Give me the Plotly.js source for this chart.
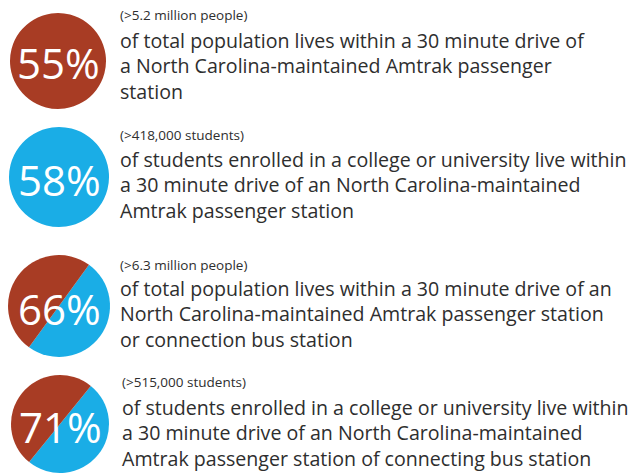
<!DOCTYPE html>
<html>
<head>
<meta charset="utf-8">
<script src="https://cdn.plot.ly/plotly-3.0.1.min.js"></script>
<style>html,body{margin:0;padding:0;background:#fff}#chart{width:641px;height:473px}</style>
</head>
<body>
<div id="chart"></div>
<script>
// ---- data ----
var percentLabels = ["55%", "58%", "66%", "71%"];
var countNotes = ["(>5.2 million people)", "(>418,000 students)", "(>6.3 million people)", "(>515,000 students)"];
var descLines = [
  ["of total population lives within a 30 minute drive of", "a North Carolina-maintained Amtrak passenger", "station"],
  ["of students enrolled in a college or university live within", "a 30 minute drive of an North Carolina-maintained", "Amtrak passenger station"],
  ["of total population lives within a 30 minute drive of an", "North Carolina-maintained Amtrak passenger station", "or connection bus station"],
  ["of students enrolled in a college or university live within", "a 30 minute drive of an North Carolina-maintained", "Amtrak passenger station of connecting bus station"]
];
// share of each circle coloured blue (rest brown)
var blueShare = [0, 100, 50, 50];

// ---- layout (positions in px) ----
var W = 641, H = 473;
var circ = [
  {cx: 58, cy: 61, r: 48, rot: 37},
  {cx: 59, cy: 177, r: 50, rot: 37},
  {cx: 59, cy: 306, r: 51, rot: 36},
  {cx: 60, cy: 424, r: 49, rot: 39}
];
var textX = [119, 119, 119, 121];
var noteY = [15, 135, 265, 382];
var blockY = [66, 185, 314, 433];   // centre of the 3-line description
var BROWN = "#A83C24", BLUE = "#1AADE6", TXT = "#2E2E2E";

function clamp(v){ return Math.max(0, Math.min(1, v)); }

var traces = [];
var annotations = [];
for (var i = 0; i < percentLabels.length; i++) {
  var c = circ[i];
  traces.push({
    type: "pie",
    values: [blueShare[i], 100 - blueShare[i]],
    marker: {colors: [BLUE, BROWN], line: {width: 0}},
    sort: false,
    direction: "clockwise",
    rotation: c.rot,
    textinfo: "none",
    hoverinfo: "none",
    showlegend: false,
    domain: {
      x: [clamp((c.cx - c.r) / W), clamp((c.cx + c.r) / W)],
      y: [clamp(1 - (c.cy + c.r) / H), clamp(1 - (c.cy - c.r) / H)]
    }
  });
  annotations.push({
    xref: "paper", yref: "paper", x: c.cx / W, y: 1 - (c.cy + 2) / H,
    xanchor: "center", yanchor: "middle", showarrow: false,
    text: percentLabels[i],
    font: {family: "Open Sans", size: 42, color: "#ffffff"}
  });
  annotations.push({
    xref: "paper", yref: "paper", x: textX[i] / W, y: 1 - noteY[i] / H,
    xanchor: "left", yanchor: "middle", showarrow: false, borderpad: 0,
    text: countNotes[i],
    font: {family: "Open Sans", size: 13.5, color: TXT}
  });
  annotations.push({
    xref: "paper", yref: "paper", x: textX[i] / W, y: 1 - blockY[i] / H,
    xanchor: "left", yanchor: "middle", align: "left", showarrow: false, borderpad: 0,
    text: descLines[i].join("<br>"),
    font: {family: "Open Sans", size: 19.6, color: TXT}
  });
}

Plotly.newPlot("chart", traces, {
  width: W, height: H,
  margin: {l: 0, r: 0, t: 0, b: 0},
  paper_bgcolor: "#ffffff",
  plot_bgcolor: "#ffffff",
  annotations: annotations
}, {staticPlot: true});
</script>
</body>
</html>
